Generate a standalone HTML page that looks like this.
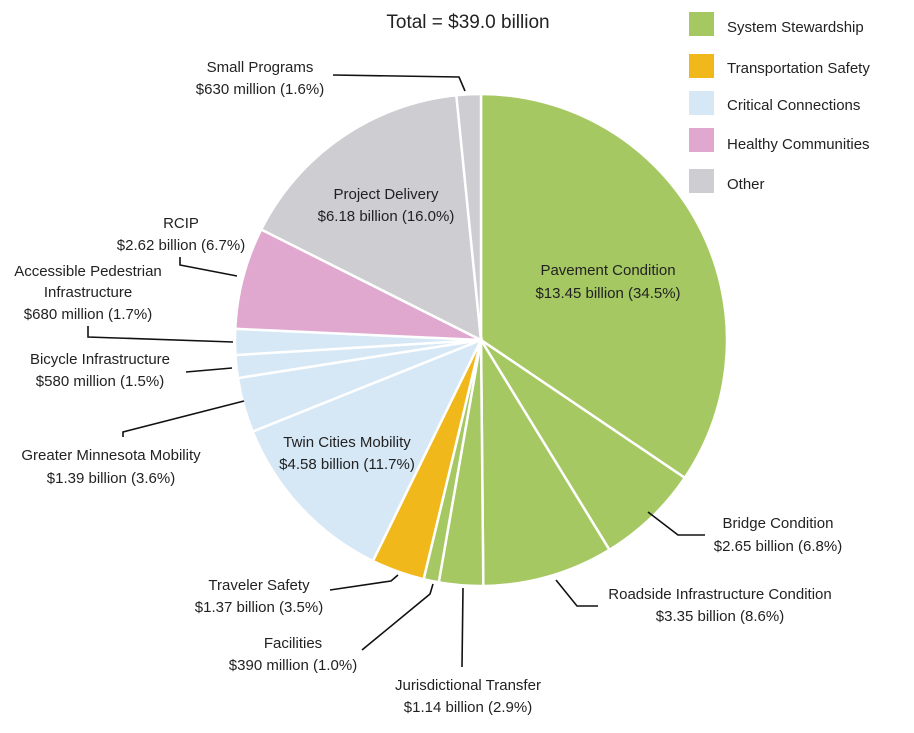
<!DOCTYPE html>
<html><head><meta charset="utf-8"><style>
html,body{margin:0;padding:0;background:#fff;}
svg text{font-family:"Liberation Sans Narrow","Liberation Sans",sans-serif;font-size:15px;fill:#222;}
</style></head><body>
<svg id="s" width="914" height="728" viewBox="0 0 914 728" xmlns="http://www.w3.org/2000/svg">
<g id="pie"></g>
<g stroke="#111" stroke-width="1.6" fill="none">
<polyline points="333,75 459,77 465,91"/>
<polyline points="180,257 180,265 237,276"/>
<polyline points="88,326 88,337 233,342"/>
<polyline points="186,372 232,368"/>
<polyline points="123,437 123,432 244,401"/>
<polyline points="648,512 678,535 705,535"/>
<polyline points="556,580 577,606 598,606"/>
<polyline points="463,588 462,667"/>
<polyline points="433,584 430,594 362,650"/>
<polyline points="330,590 391,581 398,575"/>
</g>
<g text-anchor="middle">
<text x="468" y="28" style="font-size:19px">Total = $39.0 billion</text>
<text x="260" y="72">Small Programs</text><text x="260" y="94">$630 million (1.6%)</text>
<text x="386" y="199">Project Delivery</text><text x="386" y="221">$6.18 billion (16.0%)</text>
<text x="181" y="228">RCIP</text><text x="181" y="250">$2.62 billion (6.7%)</text>
<text x="88" y="276">Accessible Pedestrian</text><text x="88" y="297">Infrastructure</text><text x="88" y="319">$680 million (1.7%)</text>
<text x="100" y="364">Bicycle Infrastructure</text><text x="100" y="386">$580 million (1.5%)</text>
<text x="111" y="460">Greater Minnesota Mobility</text><text x="111" y="483">$1.39 billion (3.6%)</text>
<text x="347" y="447">Twin Cities Mobility</text><text x="347" y="469">$4.58 billion (11.7%)</text>
<text x="608" y="275">Pavement Condition</text><text x="608" y="298">$13.45 billion (34.5%)</text>
<text x="778" y="528">Bridge Condition</text><text x="778" y="551">$2.65 billion (6.8%)</text>
<text x="720" y="599">Roadside Infrastructure Condition</text><text x="720" y="621">$3.35 billion (8.6%)</text>
<text x="259" y="590">Traveler Safety</text><text x="259" y="612">$1.37 billion (3.5%)</text>
<text x="293" y="648">Facilities</text><text x="293" y="670">$390 million (1.0%)</text>
<text x="468" y="690">Jurisdictional Transfer</text><text x="468" y="712">$1.14 billion (2.9%)</text>
</g>
<g>
<rect x="689" y="12" width="25" height="24" fill="#a5c862"/>
<rect x="689" y="54" width="25" height="24" fill="#f1b81c"/>
<rect x="689" y="91" width="25" height="24" fill="#d6e7f6"/>
<rect x="689" y="128" width="25" height="24" fill="#e0a8cf"/>
<rect x="689" y="169" width="25" height="24" fill="#cdcdd2"/>
<text x="727" y="32">System Stewardship</text>
<text x="727" y="73">Transportation Safety</text>
<text x="727" y="110">Critical Connections</text>
<text x="727" y="149">Healthy Communities</text>
<text x="727" y="189">Other</text>
</g>
</svg>
<script>
var d=[[34.5,"#a5c862"],[6.8,"#a5c862"],[8.6,"#a5c862"],[2.9,"#a5c862"],[1.0,"#a5c862"],[3.5,"#f1b81c"],[11.7,"#d6e7f6"],[3.6,"#d6e7f6"],[1.5,"#d6e7f6"],[1.7,"#d6e7f6"],[6.7,"#e0a8cf"],[16.0,"#cdcdd2"],[1.6,"#cdcdd2"]];
var cx=481,cy=340,r=246,tot=100.1,a=0,g=document.getElementById("pie"),h="";
d.forEach(function(s){var a0=a/tot*2*Math.PI,a1=(a+s[0])/tot*2*Math.PI;a+=s[0];
var x0=cx+r*Math.sin(a0),y0=cy-r*Math.cos(a0),x1=cx+r*Math.sin(a1),y1=cy-r*Math.cos(a1);
h+='<path d="M'+cx+','+cy+'L'+x0+','+y0+'A'+r+','+r+' 0 '+((a1-a0)>Math.PI?1:0)+' 1 '+x1+','+y1+'Z" fill="'+s[1]+'" stroke="#fff" stroke-width="2.5"/>';});
g.innerHTML=h;
</script>
</body></html>
